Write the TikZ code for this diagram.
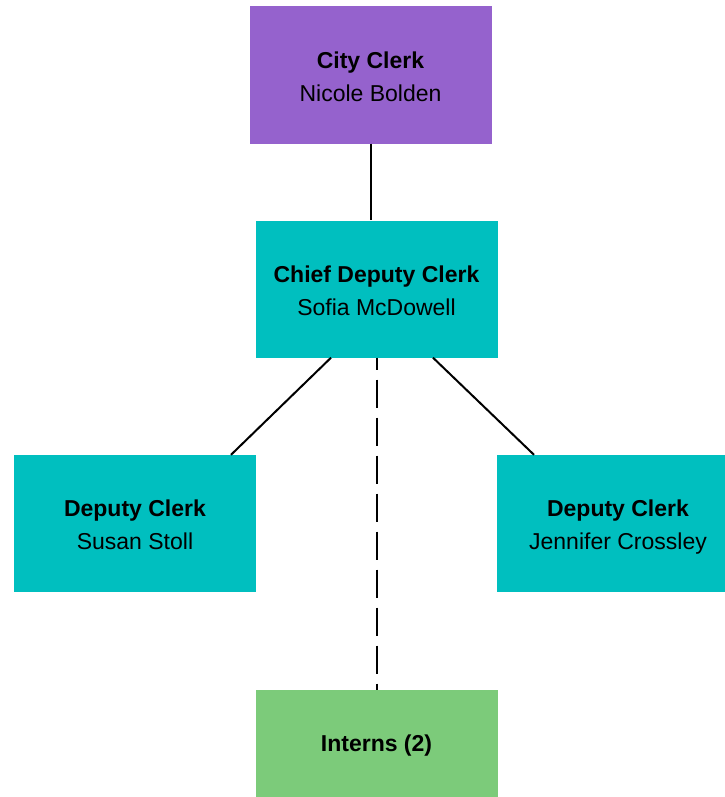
\documentclass[tikz,border=0pt]{standalone}
\usepackage{fontspec}
\setmainfont{Liberation Sans}
\usepackage{tikz}

\definecolor{clerkpurple}{RGB}{149,98,205}
\definecolor{deputyteal}{RGB}{0,191,191}
\definecolor{internsgreen}{RGB}{124,203,122}

\tikzset{
  box/.style={rectangle, minimum width=242pt, minimum height=137pt, inner sep=0pt},
  boxtext/.style={align=center, font=\fontsize{23}{33}\selectfont, inner sep=0pt, yshift=-6.5pt},
  link/.style={line width=2pt, black},
}

\begin{document}
\begin{tikzpicture}[x=1pt, y=-1pt]
	\useasboundingbox (0,0) rectangle (724,797);

	\node[box, fill=clerkpurple, label={[boxtext]center:\textbf{City Clerk}\\Nicole Bolden\strut}] (clerk) at (370.5,75) {};
	\node[box, fill=deputyteal, label={[boxtext]center:\textbf{Chief Deputy Clerk}\\Sofia McDowell\strut}] (chief) at (376.5,289) {};
	\node[box, fill=deputyteal, label={[boxtext]center:\textbf{Deputy Clerk}\\Susan Stoll\strut}] (deputyA) at (135,523.5) {};
	\node[box, fill=deputyteal, label={[boxtext]center:\textbf{Deputy Clerk}\\Jennifer Crossley\strut}] (deputyB) at (618,523.5) {};
	\node[box, fill=internsgreen, minimum height=110pt, label={[boxtext, yshift=5.5pt]center:\textbf{Interns (2)}}] (interns) at (376.5,745) {};

	\draw[link] (clerk.south) -- (clerk.south |- chief.north);
	\draw[link] ([xshift=-45.5pt]chief.south) -- ([xshift=96pt]deputyA.north);
	\draw[link] ([xshift=56.5pt]chief.south) -- ([xshift=-84pt]deputyB.north);
	\draw[link, dash pattern=on 28pt off 10pt, dash phase=16pt] (chief.south) -- (interns.north);
\end{tikzpicture}
\end{document}
